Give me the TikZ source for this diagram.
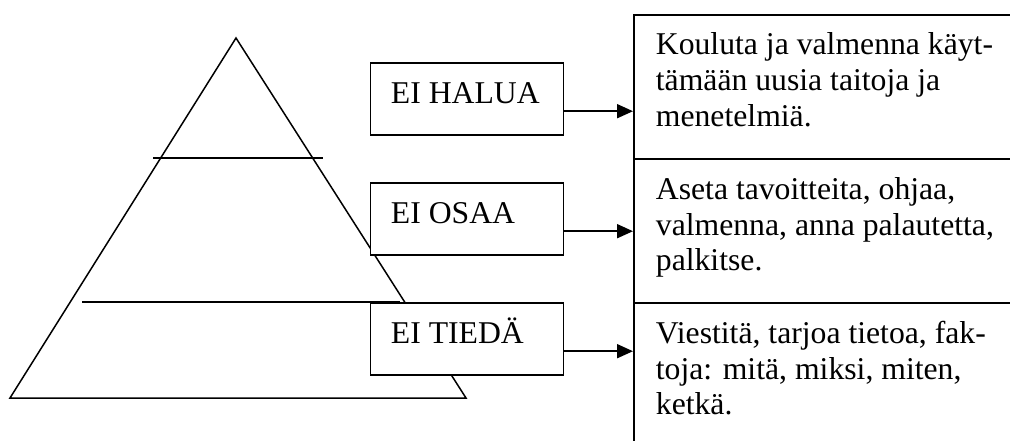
\documentclass[tikz,border=0pt]{standalone}
\usepackage{fontspec}
\setmainfont{Liberation Serif}
\usetikzlibrary{arrows.meta}
\begin{document}
\begin{tikzpicture}[x=1pt,y=-1pt,
  line width=1.8pt,
  txt/.style={anchor=base west,inner sep=0pt,font=\fontsize{31.7pt}{35.7pt}\selectfont},
  lbox/.style={draw,fill=white,anchor=north west,minimum width=193pt,minimum height=71.7pt,inner sep=0pt},
  rbox/.style={draw,fill=white,anchor=north west,minimum width=400pt,inner sep=0pt},
  pyr/.style={line width=1.5pt},
  arr/.style={-{Triangle[length=16pt,width=14pt]}}]
\clip (0,0) rectangle (1010,441);
% pyramid
\coordinate (apex) at (236,38);
\coordinate (bl) at (10,398);
\coordinate (br) at (466,398);
\draw[pyr,line join=miter] (apex) -- (bl) -- (br) -- cycle;
\coordinate (l1a) at (153,158);
\coordinate (l1b) at (323,158);
\draw[pyr] (l1a) -- (l1b);
\coordinate (l2a) at (82,302);
\coordinate (l2b) at (400,302);
\draw[pyr] (l2a) -- (l2b);
% left boxes
\node[lbox] (halua) at (369.5,62.3) {};
\node[lbox] (osaa) at (369.5,182.3) {};
\node[lbox] (tieda) at (369.5,302.3) {};
\node[txt] (thalua) at (390,103.3) {EI HALUA};
\node[txt] (tosaa) at (390,223.3) {EI OSAA};
\node[txt] (ttieda) at (390,343.3) {EI TIEDÄ};
% right boxes
\node[rbox,minimum height=144pt] (r1) at (633,14) {};
\node[rbox,minimum height=144pt] (r2) at (633,158) {};
\node[rbox,minimum height=170pt] (r3) at (633,302) {};
\node[txt] (r1a) at (655,55) {Kouluta ja valmenna käyt-};
\node[txt] (r1b) at (655,90.7) {tämään uusia taitoja ja};
\node[txt] (r1c) at (655,126.4) {menetelmiä.};
\node[txt] (r2a) at (655,199.3) {Aseta tavoitteita, ohjaa,};
\node[txt] (r2b) at (655,235) {valmenna, anna palautetta,};
\node[txt] (r2c) at (655,270.7) {palkitse.};
\node[txt] (r3a) at (655,343.3) {Viestitä, tarjoa tietoa, fak-};
\node[txt] (r3b) at (655,379) {toja: mitä, miksi, miten,};
\node[txt] (r3c) at (655,414.7) {ketkä.};
% arrows
\coordinate (a1) at ([yshift=-12.15pt]halua.east);
\coordinate (a2) at ([yshift=-12.15pt]osaa.east);
\coordinate (a3) at ([yshift=-12.15pt]tieda.east);
\draw[arr] (a1) -- (a1 -| r1.west);
\draw[arr] (a2) -- (a2 -| r2.west);
\draw[arr] (a3) -- (a3 -| r3.west);
\end{tikzpicture}
\end{document}
